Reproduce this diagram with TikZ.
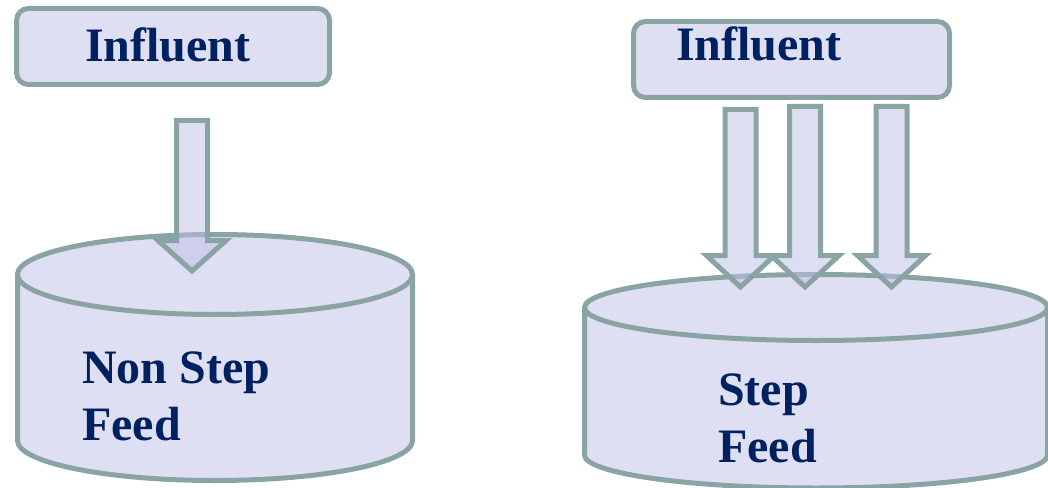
\documentclass[tikz,border=0pt]{standalone}
\usepackage{fontspec}
\setmainfont{Liberation Serif}
\definecolor{edgec}{RGB}{138,164,164}
\definecolor{fillc}{RGB}{223,223,243}
\definecolor{arrowc}{RGB}{190,190,232}
\definecolor{txtc}{RGB}{0,33,96}
\newcommand\feedarrow[4]{% center x, top y, base y, tip y
  \filldraw[blockarr] (#1-15.5,#2) -- (#1+15.5,#2) -- (#1+15.5,#3) -- (#1+34,#3) -- (#1,#4) -- (#1-34,#3) -- (#1-15.5,#3) -- cycle;}
\begin{document}
\begin{tikzpicture}[x=0.75pt,y=-0.75pt,
  inbox/.style={draw=edgec, fill=fillc, line width=3.75pt, rounded corners=9pt, inner sep=0pt},
  lbl/.style={text=txtc, font=\fontsize{36}{43}\selectfont\bfseries, inner sep=0pt, anchor=base west},
  tank/.style={draw=edgec, line width=3.75pt},
  blockarr/.style={draw=edgec, fill=arrowc, fill opacity=0.5, line width=3.75pt, line join=miter}]
\useasboundingbox (0,0) rectangle (1048,488);

% influent boxes
\node[inbox, minimum width=234.75pt, minimum height=57pt] (inA) at (173,46.5) {};
\node[lbl] (inAt) at (85,62) {Influent};
\node[inbox, minimum width=237pt, minimum height=57pt] (inB) at (791.5,59.5) {};
\node[lbl] (inBt) at (676,61) {Influent};

% left tank
\fill[fillc] (17.5,274.5) -- (17.5,440.5) arc[start angle=180, end angle=0, x radius=197.5, y radius=40] -- (412.5,274.5) -- cycle;
\draw[tank] (17.5,274.5) -- (17.5,440.5) arc[start angle=180, end angle=0, x radius=197.5, y radius=40] -- (412.5,274.5);
\filldraw[tank, fill=fillc] (215,274.5) ellipse [x radius=197.5, y radius=40];

% right tank
\fill[fillc] (584.5,307.5) -- (584.5,455) arc[start angle=180, end angle=0, x radius=231.5, y radius=33] -- (1047.5,307.5) -- cycle;
\draw[tank] (584.5,307.5) -- (584.5,455) arc[start angle=180, end angle=0, x radius=231.5, y radius=33] -- (1047.5,307.5);
\filldraw[tank, fill=fillc] (816,307.5) ellipse [x radius=231.5, y radius=33];

% arrows
\feedarrow{192}{120.5}{240.5}{271}
\feedarrow{740.5}{109.5}{255.5}{287}
\feedarrow{805}{106.5}{255.5}{287}
\feedarrow{891.5}{106.5}{255.5}{287}

% tank labels
\node[lbl] (nsA) at (82,383) {Non Step};
\node[lbl] (nsB) at (82,440) {Feed};
\node[lbl] (sA) at (718,405) {Step};
\node[lbl] (sB) at (718,462) {Feed};
\end{tikzpicture}
\end{document}
